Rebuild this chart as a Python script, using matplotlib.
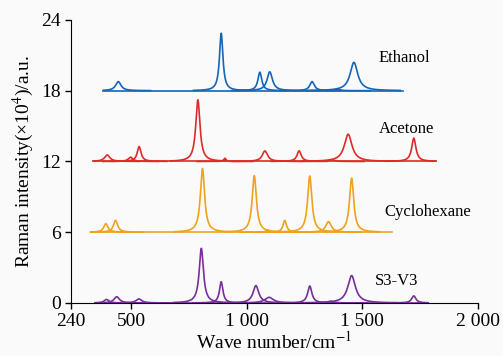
import numpy as np
import matplotlib
matplotlib.use("Agg")
import matplotlib.pyplot as plt

plt.rcParams['font.family'] = ['Liberation Serif', 'DejaVu Serif']
plt.rcParams['mathtext.fontset'] = 'stix'

# --- data (peak centres cm^-1, peak heights x1e4, half widths) ---
names = ["Ethanol", "Acetone", "Cyclohexane", "S3-V3"]
offsets = [18, 12, 6, 0]
ranges = [(380, 1677), (337, 1817), (325, 1627), (344, 1785)]
colors = ["#1565b8", "#e02a2a", "#f0a21a", "#7a2d9c"]

eth_centers = [445, 890, 1057, 1100, 1283, 1395, 1464]
eth_heights = [0.77, 4.87, 1.57, 1.60, 0.77, 0.10, 2.40]
eth_widths = [14, 9, 10, 14, 12, 14, 20]

ace_centers = [397, 498, 535, 789, 906, 1079, 1227, 1367, 1439, 1723]
ace_heights = [0.55, 0.36, 1.26, 5.22, 0.27, 0.89, 0.90, 0.15, 2.31, 1.97]
ace_widths = [14, 12, 10, 11, 6, 14, 11, 14, 20, 11]

cyc_centers = [391, 433, 809, 1033, 1091, 1165, 1273, 1354, 1454]
cyc_heights = [0.72, 1.00, 5.40, 4.80, 0.20, 1.00, 4.77, 0.90, 4.58]
cyc_widths = [11, 11, 11, 11, 8, 9, 11, 14, 11]

s3_centers = [394, 438, 534, 804, 890, 1040, 1097, 1273, 1363, 1454, 1723]
s3_heights = [0.30, 0.53, 0.34, 4.63, 1.80, 1.47, 0.48, 1.44, 0.15, 2.32, 0.60]
s3_widths = [12, 14, 15, 11, 9, 15, 22, 11, 16, 20, 11]

peaks = [(eth_centers, eth_heights, eth_widths),
         (ace_centers, ace_heights, ace_widths),
         (cyc_centers, cyc_heights, cyc_widths),
         (s3_centers, s3_heights, s3_widths)]

label_pos = [(1572, 20.8), (1572, 14.76), (1594, 7.74), (1555, 1.87)]

x_ticks = [240, 500, 1000, 1500, 2000]
x_ticklabels = ["240", "500", "1 000", "1 500", "2 000"]
y_ticks = [0, 6, 12, 18, 24]

fig = plt.figure(figsize=(5.03, 3.56), dpi=100, facecolor="#fafafa")
ax = fig.add_axes([0.141, 0.149, 0.809, 0.795])
ax.set_facecolor("#fafafa")

for name, off, (x0, x1), col, (cs, hs, ws), (lx, ly) in zip(
        names, offsets, ranges, colors, peaks, label_pos):
    ax.plot([x0, x1], [off, off], color=col, lw=1.2)
    for c, h, w in zip(cs, hs, ws):
        span = max(10 * w, 120)
        a = max(x0, c - span)
        b = min(x1, c + span)
        x = np.linspace(a, b, 600)
        y = off + h * w**2 / ((x - c)**2 + w**2)
        ax.plot(x, y, color=col, lw=1.2)
    ax.text(lx, ly, name, fontsize=12, ha="left", va="center")

ax.set_xlim(240, 2000)
ax.set_ylim(0, 24)
ax.set_xticks(x_ticks)
ax.set_xticklabels(x_ticklabels)
ax.set_yticks(y_ticks)
ax.tick_params(direction="out", length=4, width=1, labelsize=14, pad=3)
for s in ["top", "right"]:
    ax.spines[s].set_visible(False)
ax.set_xlabel("Wave number/cm$^{-1}$", fontsize=14, labelpad=1)
ax.set_ylabel("Raman intensity(\u00d710$^{4}$)/a.u.", fontsize=14, labelpad=4)

fig.savefig("out.png", dpi=100, facecolor=fig.get_facecolor())
